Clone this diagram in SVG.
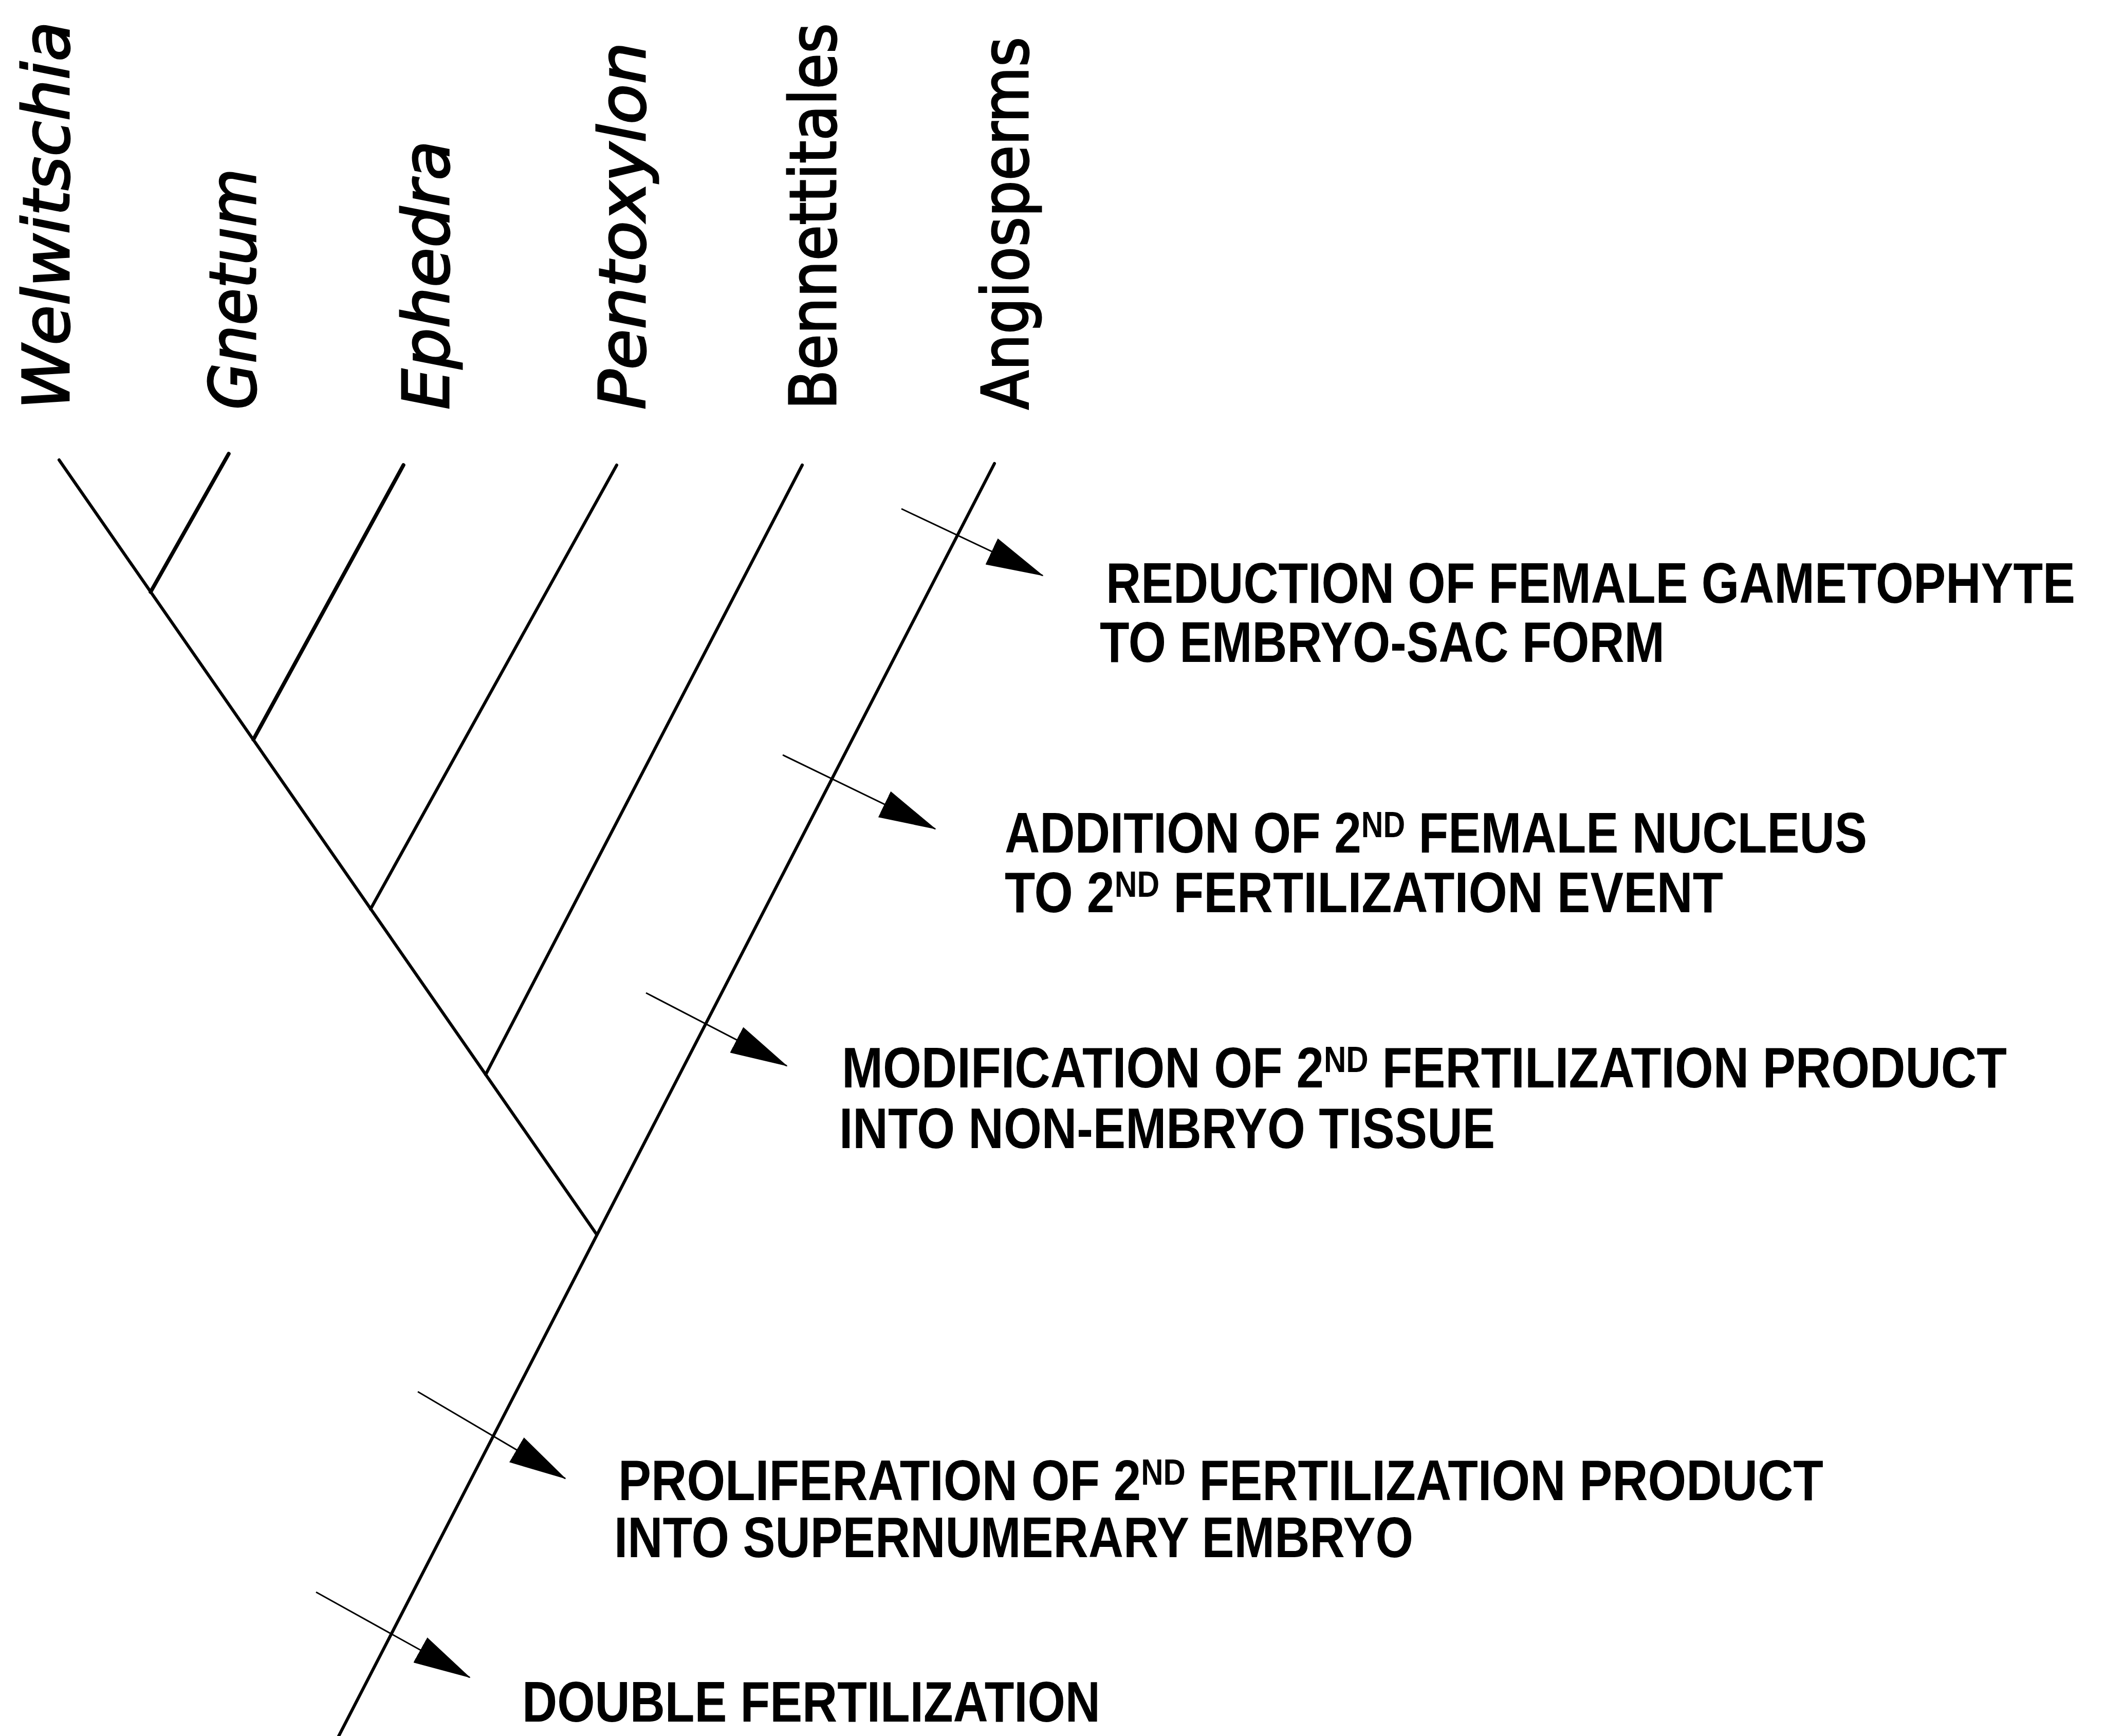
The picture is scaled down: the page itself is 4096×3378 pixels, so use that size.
<svg xmlns="http://www.w3.org/2000/svg" width="4096" height="3378" viewBox="0 0 4096 3378">
<defs>
<style>
.taxon{font-family:"DejaVu Sans","Liberation Sans",sans-serif;font-size:125px;fill:#000;stroke:#000;stroke-width:3}
.it{font-style:italic}
.char{font-family:"Liberation Sans",Arial,sans-serif;font-weight:bold;font-size:112px;fill:#000}
.sup{font-size:70px}
.br{stroke:#000;stroke-width:6;fill:none;stroke-linecap:round}
.thick{stroke-width:7.5}
.tick{stroke:#000;stroke-width:3;fill:none;marker-end:url(#ah)}
</style>
<marker id="ah" markerUnits="userSpaceOnUse" markerWidth="112" markerHeight="56" viewBox="0 0 112 56" refX="110" refY="28" orient="auto"><path d="M0,0 L112,28 L0,56 z" fill="#000"/></marker>
</defs>
<rect width="4096" height="3378" fill="#fff"/>
<g id="connectors">
<line class="br" x1="115" y1="895" x2="1161" y2="2402"/>
<line class="br thick" x1="445" y1="883" x2="293" y2="1152"/>
<line class="br thick" x1="785" y1="905" x2="493" y2="1439"/>
<line class="br" x1="1200" y1="905" x2="721" y2="1769"/>
<line class="br" x1="1561" y1="905" x2="945" y2="2091"/>
<line class="br" x1="1935" y1="902" x2="655" y2="3386"/>
<line class="tick" x1="1754" y1="990" x2="2029" y2="1120"/>
<line class="tick" x1="1523" y1="1469" x2="1820" y2="1613"/>
<line class="tick" x1="1257" y1="1932" x2="1531" y2="2074"/>
<line class="tick" x1="813" y1="2708" x2="1100" y2="2877"/>
<line class="tick" x1="615" y1="3098" x2="914" y2="3264"/>
</g>
<g id="welwitschia"><text class="taxon it" transform="translate(134,797) rotate(-90)" textLength="755" lengthAdjust="spacingAndGlyphs">Welwitschia</text></g>
<g id="gnetum"><text class="taxon it" transform="translate(497,797) rotate(-90)" textLength="469" lengthAdjust="spacingAndGlyphs">Gnetum</text></g>
<g id="ephedra"><text class="taxon it" transform="translate(873,797) rotate(-90)" textLength="523" lengthAdjust="spacingAndGlyphs">Ephedra</text></g>
<g id="pentoxylon"><text class="taxon it" transform="translate(1255,797) rotate(-90)" textLength="715" lengthAdjust="spacingAndGlyphs">Pentoxylon</text></g>
<g id="bennettitales"><text class="taxon" transform="translate(1626,797) rotate(-90)" textLength="752" lengthAdjust="spacingAndGlyphs">Bennettitales</text></g>
<g id="angiosperms"><text class="taxon" transform="translate(2000,797) rotate(-90)" textLength="725" lengthAdjust="spacingAndGlyphs">Angiosperms</text></g>
<g id="char-reduction">
<text class="char" x="2152" y="1173" textLength="1886" lengthAdjust="spacingAndGlyphs">REDUCTION OF FEMALE GAMETOPHYTE</text>
<text class="char" x="2140" y="1288" textLength="1099" lengthAdjust="spacingAndGlyphs">TO EMBRYO-SAC FORM</text>
</g>
<g id="char-addition">
<text class="char" x="1955" y="1659" textLength="1678" lengthAdjust="spacingAndGlyphs">ADDITION OF 2<tspan class="sup" dy="-30">ND</tspan><tspan dy="30"> FEMALE NUCLEUS</tspan></text>
<text class="char" x="1955" y="1775" textLength="1398" lengthAdjust="spacingAndGlyphs">TO 2<tspan class="sup" dy="-30">ND</tspan><tspan dy="30"> FERTILIZATION EVENT</tspan></text>
</g>
<g id="char-modification">
<text class="char" x="1638" y="2116" textLength="2267" lengthAdjust="spacingAndGlyphs">MODIFICATION OF 2<tspan class="sup" dy="-30">ND</tspan><tspan dy="30"> FERTILIZATION PRODUCT</tspan></text>
<text class="char" x="1633" y="2234" textLength="1276" lengthAdjust="spacingAndGlyphs">INTO NON-EMBRYO TISSUE</text>
</g>
<g id="char-proliferation">
<text class="char" x="1203" y="2919" textLength="2345" lengthAdjust="spacingAndGlyphs">PROLIFERATION OF 2<tspan class="sup" dy="-30">ND</tspan><tspan dy="30"> FERTILIZATION PRODUCT</tspan></text>
<text class="char" x="1195" y="3030" textLength="1555" lengthAdjust="spacingAndGlyphs">INTO SUPERNUMERARY EMBRYO</text>
</g>
<g id="char-double">
<text class="char" x="1016" y="3350" textLength="1125" lengthAdjust="spacingAndGlyphs">DOUBLE FERTILIZATION</text>
</g>
</svg>
